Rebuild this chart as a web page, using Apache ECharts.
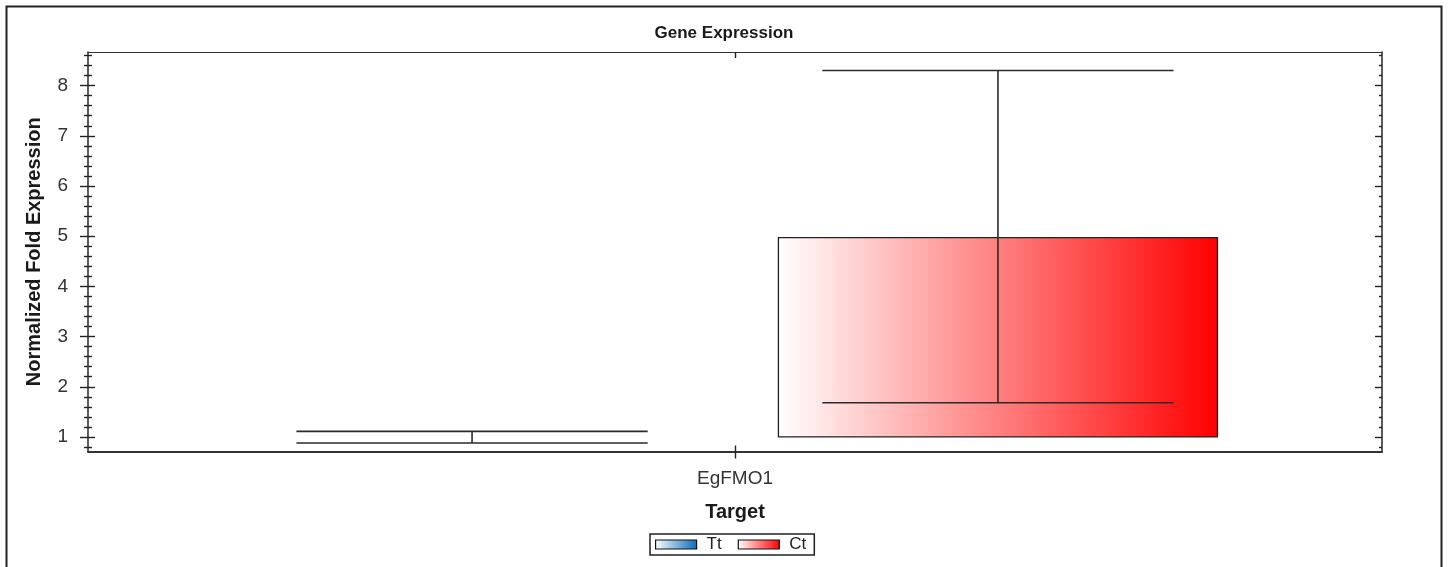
<!DOCTYPE html>
<html>
<head>
<meta charset="utf-8">
<title>Gene Expression</title>
<script src="https://cdn.jsdelivr.net/npm/echarts@6/dist/echarts.min.js"></script>
<style>
  html, body { margin: 0; padding: 0; background: #fff; }
  #chart { width: 1448px; height: 567px; }
</style>
</head>
<body>
<div id="chart"></div>
<script>
// values
var targets = ['EgFMO1'];
var sampleNames = ['Tt', 'Ct'];
var foldExpr = [1.0, 4.97];   // bars start at 1
var errLow = [0.88, 1.68];
var errHigh = [1.11, 8.30];
var yMajorTicks = [1, 2, 3, 4, 5, 6, 7, 8];
var yMin = 0.71, yMax = 8.67;

// minor ticks every 0.2
var yMinorTicks = [];
for (var i = 4; i <= 43; i++) {
  if (i % 5 !== 0) yMinorTicks.push(i / 5);
}

var endColors = ['#0b6cb6', '#ff0000'];
var barOffset = [-0.2032, 0.2032];
var barFrac = 0.3393;

function grad(c) {
  return new echarts.graphic.LinearGradient(0, 0, 1, 0, [
    { offset: 0, color: '#ffffff' },
    { offset: 1, color: c }
  ]);
}

function renderBar(sIdx) {
  return function (params, api) {
    var cat = api.value(0);
    var band = api.size([1, 0])[0];
    var barW = band * barFrac;
    var capW = barW * 0.8;
    var cx = api.coord([cat, 1])[0] + barOffset[sIdx] * band;
    var yBase = api.coord([cat, 1])[1];
    var yTop = api.coord([cat, api.value(1)])[1];
    var yLo = api.coord([cat, api.value(2)])[1];
    var yHi = api.coord([cat, api.value(3)])[1];
    var kids = [];
    if (Math.abs(yBase - yTop) > 0.5) {
      kids.push({
        type: 'rect',
        shape: { x: cx - barW / 2, y: Math.min(yTop, yBase), width: barW, height: Math.abs(yBase - yTop) },
        style: { fill: grad(endColors[sIdx]), stroke: '#222', lineWidth: 1.3 }
      });
    }
    var ls = { stroke: '#2a2a2a', lineWidth: 1.6 };
    kids.push({ type: 'line', shape: { x1: cx, y1: yLo, x2: cx, y2: yHi }, style: ls });
    kids.push({ type: 'line', shape: { x1: cx - capW / 2, y1: yHi, x2: cx + capW / 2, y2: yHi }, style: ls });
    kids.push({ type: 'line', shape: { x1: cx - capW / 2, y1: yLo, x2: cx + capW / 2, y2: yLo }, style: ls });
    return { type: 'group', children: kids };
  };
}

function yAx(pos, ticks, len, inside, extra) {
  var a = {
    type: 'value', position: pos, min: yMin, max: yMax,
    splitLine: { show: false },
    axisLine: { show: false },
    axisLabel: { show: false },
    axisTick: { show: true, customValues: ticks, length: len, inside: inside,
      lineStyle: { color: '#222', width: 1.4 } }
  };
  return Object.assign(a, extra || {});
}

// helper x axes (0..1 across the plot) only carry the centre tick
function xTickAx(pos, len, inside) {
  return {
    type: 'value', position: pos, min: 0, max: 1,
    splitLine: { show: false },
    axisLine: { show: false },
    axisLabel: { show: false },
    axisTick: { show: true, customValues: [0.5], length: len, inside: inside,
      lineStyle: { color: '#222', width: 1.4 } }
  };
}

var chart = echarts.init(document.getElementById('chart'));

var series = sampleNames.map(function (name, s) {
  return {
    name: name,
    type: 'custom',
    xAxisIndex: 0,
    yAxisIndex: 0,
    itemStyle: { color: endColors[s] },
    renderItem: renderBar(s),
    encode: { x: 0, y: [1, 2, 3] },
    data: targets.map(function (t, c) { return [c, foldExpr[s], errLow[s], errHigh[s]]; })
  };
});

chart.setOption({
  animation: false,
  title: {
    text: 'Gene Expression',
    left: 'center',
    top: 20,
    textStyle: { fontFamily: 'Liberation Sans', fontSize: 17, fontWeight: 'bold', color: '#1a1a1a' }
  },
  graphic: [{
    type: 'rect',
    shape: { x: 6.5, y: 6.5, width: 1435, height: 600 },
    style: { fill: 'none', stroke: '#222', lineWidth: 2 }
  }],
  legend: {
    left: 650,
    top: 534,
    data: sampleNames.map(function (n, s) {
      return { name: n, icon: 'rect', itemStyle: { color: grad(endColors[s]), borderColor: '#111', borderWidth: 1.2 } };
    }),
    itemWidth: 41,
    itemHeight: 9,
    itemGap: 16,
    padding: [2, 8, 2, 5],
    borderColor: '#222',
    borderWidth: 1.5,
    textStyle: { fontFamily: 'Liberation Sans', fontSize: 17, color: '#222', padding: [0, 0, 0, 5] }
  },
  grid: { left: 88, right: 66, top: 52, height: 399.5 },
  xAxis: [{
    type: 'category',
    data: targets,
    position: 'bottom',
    axisLine: { lineStyle: { color: '#333', width: 2 } },
    axisTick: { show: false },
    axisLabel: { fontFamily: 'Liberation Sans', fontSize: 19, color: '#333', margin: 18 },
    name: 'Target',
    nameLocation: 'middle',
    nameGap: 51,
    nameTextStyle: { fontFamily: 'Liberation Sans', fontSize: 20, fontWeight: 'bold', color: '#1a1a1a' }
  }, {
    type: 'category',
    data: targets,
    position: 'top',
    axisLine: { lineStyle: { color: '#333', width: 1.2 } },
    axisLabel: { show: false },
    axisTick: { show: false }
  },
    xTickAx('bottom', 7, false),
    xTickAx('bottom', 6, true),
    xTickAx('top', 6, true)
  ],
  yAxis: [
    yAx('left', yMajorTicks, 8, false, {
      axisLine: { show: true, lineStyle: { color: '#333', width: 1.6 } },
      axisLabel: { show: true, customValues: yMajorTicks, fontFamily: 'Liberation Sans', fontSize: 19, color: '#333', margin: 20 },
      name: 'Normalized Fold Expression',
      nameLocation: 'middle',
      nameGap: 44,
      nameTextStyle: { fontFamily: 'Liberation Sans', fontSize: 20, fontWeight: 'bold', color: '#1a1a1a' }
    }),
    yAx('left', yMajorTicks, 7, true),
    yAx('left', yMinorTicks, 4, false),
    yAx('left', yMinorTicks, 4, true),
    yAx('right', yMajorTicks, 7, true, {
      axisLine: { show: true, lineStyle: { color: '#333', width: 1.6 } }
    }),
    yAx('right', yMinorTicks, 3, true)
  ],
  series: series
});
</script>
</body>
</html>
